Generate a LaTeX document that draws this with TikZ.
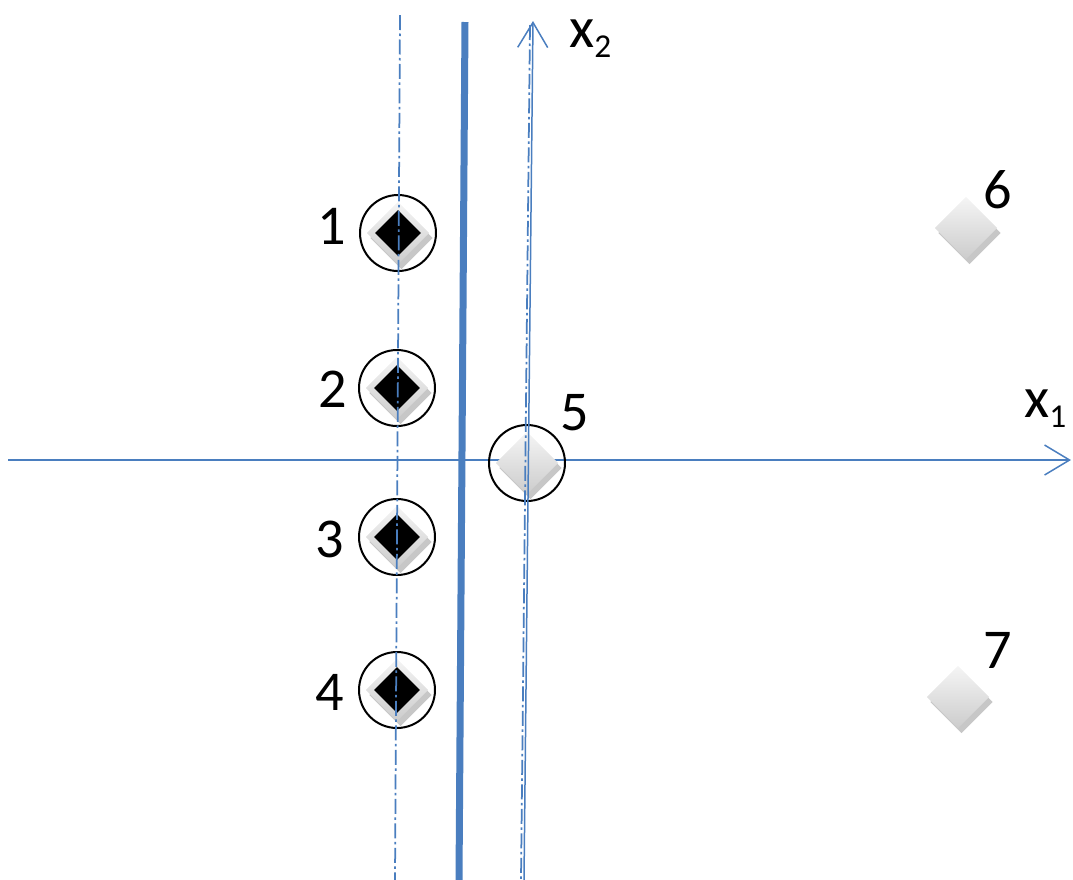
\documentclass[tikz,border=0pt]{standalone}
\usepackage{fontspec}
\setmainfont{Carlito}
\usetikzlibrary{arrows.meta,shapes.geometric,shadows}
\definecolor{lineblue}{HTML}{4A7EBF}
\begin{document}
\begin{tikzpicture}[x=0.02cm, y=-0.02cm,
    axis/.style={lineblue, line width=0.03cm, -{Straight Barb[length=0.5cm, width=0.6cm, line width=0.03cm]}},
    guide/.style={lineblue, line width=0.035cm, dash pattern=on 0.3cm off 0.07cm on 0.05cm off 0.07cm},
    pt/.style={diamond, inner sep=0pt, minimum size=1.25cm, shading=axis, top color=gray!8, bottom color=gray!40,
      drop shadow={shadow xshift=0.07cm, shadow yshift=-0.1cm, fill=gray!80, opacity=0.55}},
    sv/.style={diamond, inner sep=0pt, minimum size=0.92cm, fill=black},
    ring/.style={circle, draw=black, line width=0.04cm, inner sep=0pt, minimum size=1.52cm},
    num/.style={inner sep=0pt, font=\fontsize{32}{38}\selectfont},
    every node/.style={text=black}]
  \useasboundingbox (0,0) rectangle (1073,880);

  % 1. x1-Achse
  \coordinate (o1) at (8,460);
  \coordinate (e1) at (1071,460);
  \draw[axis] (o1) -- (e1);
  \node[inner sep=0pt, anchor=base west, font=\fontsize{33}{38}\selectfont] (lx1) at (1024,417)
    {x\raisebox{-6pt}{\fontsize{19}{20}\selectfont 1}};

  % 2. Punkte
  \node[pt] (p1) at (398,233) {};
  \node[pt] (p2) at (397,388) {};
  \node[pt] (p3) at (397,537) {};
  \node[pt] (p4) at (397,690) {};
  \node[pt] (p5) at (527,463) {};
  \node[pt] (p6) at (966,228) {};
  \node[pt] (p7) at (958,697) {};
  \node[sv] (b1) at (p1) {};
  \node[sv] (b2) at (p2) {};
  \node[sv] (b3) at (p3) {};
  \node[sv] (b4) at (p4) {};

  % 3. Kreise
  \node[ring] (c1) at (p1) {};
  \node[ring] (c2) at (p2) {};
  \node[ring] (c3) at (p3) {};
  \node[ring] (c4) at (p4) {};
  \node[ring] (c5) at (p5) {};

  % 4. Nummern
  \node[num] (n1) at (332,226) {1};
  \node[num] (n2) at (333,389) {2};
  \node[num] (n3) at (330,539) {3};
  \node[num] (n4) at (330,692) {4};
  \node[num] (n5) at (575,413) {5};
  \node[num] (n6) at (998,190) {6};
  \node[num] (n7) at (998,650) {7};

  % 5. Trennlinien
  \draw[guide] (400,15) -- (395,880);
  \draw[lineblue, line width=0.14cm] (465,22) -- (459,880);
  \draw[guide] (530,25) -- (521,880);

  % 6. x2-Achse
  \coordinate (o2) at (524,880);
  \coordinate (e2) at (533,21);
  \draw[axis] (o2) -- (e2);
  \node[inner sep=0pt, anchor=base west, font=\fontsize{33}{38}\selectfont] (lx2) at (569,47)
    {x\raisebox{-6pt}{\fontsize{19}{20}\selectfont 2}};
\end{tikzpicture}
\end{document}
